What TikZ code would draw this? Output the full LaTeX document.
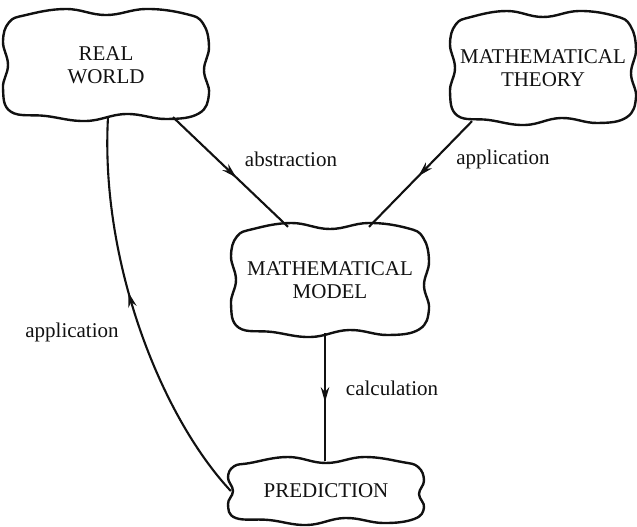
\documentclass[tikz,border=0pt]{standalone}
\usepackage{fontspec}
\setmainfont{Liberation Serif}
\usetikzlibrary{arrows.meta,decorations.markings}
\definecolor{mmInk}{HTML}{111111}
\tikzset{
  mm box/.style={align=center, inner sep=0pt, font=\fontsize{21}{23}\selectfont, text=mmInk},
  mm outline/.style={draw=mmInk, line width=2.4pt, line join=round},
  mm link/.style={draw=mmInk, line width=2.1pt, postaction={decorate},
    decoration={markings, mark=at position #1 with {\arrow{Stealth[length=15pt,width=8.5pt]}}}},
  mm link/.default=0.55,
  mm label/.style={font=\fontsize{21}{23}\selectfont, text=mmInk},
}
% wavy outline round a node: name, half width, half height
\newcommand\mmcloud[3]{%
  \draw[mm outline,shift={(#1.center)}] plot[smooth cycle,tension=.7] coordinates {
    ({-.8*#2},{-#3+2}) ({-.4*#2},{-#3-4}) (0,{-#3+2}) ({.4*#2},{-#3-4}) ({.8*#2},{-#3+1})
    ({.97*#2},{-.8*#3})
    ({#2+3},{-.35*#3}) ({#2-2},{.1*#3}) ({#2+3},{.55*#3})
    ({.93*#2},{.93*#3})
    ({.6*#2},{#3+2}) ({.2*#2},{#3-3}) ({-.2*#2},{#3+4}) ({-.6*#2},{#3-1})
    ({-.95*#2},{.9*#3})
    ({-#2-3},{.45*#3}) ({-#2+2},0) ({-#2-3},{-.45*#3})
    ({-.97*#2},{-.82*#3})};}
\begin{document}
\begin{tikzpicture}[x=1pt,y=-1pt]
  \useasboundingbox (0,0) rectangle (637,527);
  \node[mm box, minimum width=200pt, minimum height=104pt] (rw) at (106,65) {REAL\\WORLD};
  \node[mm box, minimum width=180pt, minimum height=106pt] (mt) at (543,68) {MATHEMATICAL\\THEORY};
  \node[mm box, minimum width=192pt, minimum height=106pt] (mm) at (330,280) {MATHEMATICAL\\MODEL};
  \node[mm box, minimum width=190pt, minimum height=60pt] (pred) at (326,491) {PREDICTION};
  \mmcloud{rw}{100}{52}
  \mmcloud{mt}{90}{53}
  \mmcloud{mm}{96}{53}
  \mmcloud{pred}{95}{30}
  % links
  \draw[mm link] ([xshift=67pt]rw.south) -- ([xshift=-42pt]mm.north);
  \draw[mm link=0.52] ([xshift=-71pt]mt.south) -- ([xshift=39pt]mm.north);
  \draw[mm link=0.54] ([xshift=-5pt]mm.south) -- ([xshift=-1pt]pred.north);
  \draw[mm link=0.56] (pred.west) .. controls (160,415) and (100,260) .. ([xshift=2pt]rw.south);
  \node[mm label] (abs) at (291,159) {abstraction};
  \node[mm label] (appr) at (503,159) {application};
  \node[mm label] (calc) at (392,388) {calculation};
  \node[mm label] (appl) at (72,332) {application};
\end{tikzpicture}
\end{document}
